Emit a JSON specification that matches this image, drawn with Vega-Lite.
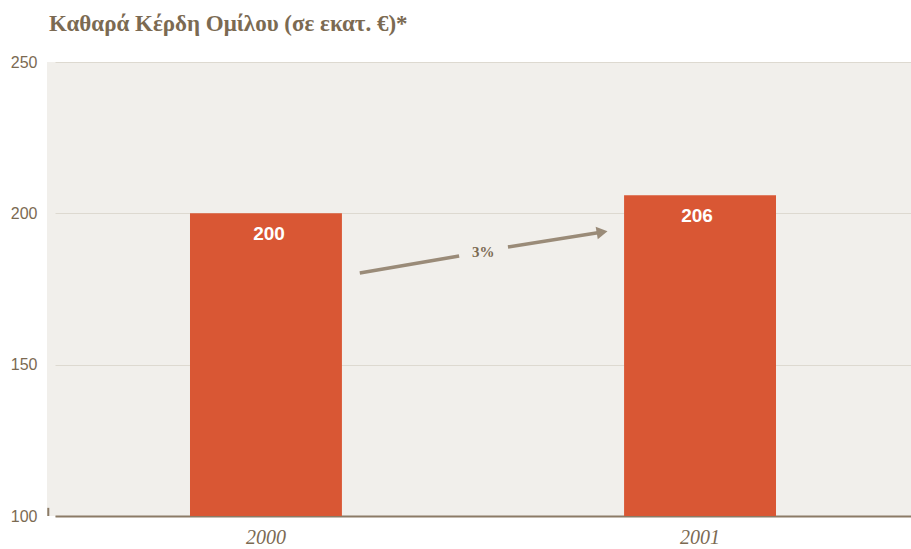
{
  "$schema": "https://vega.github.io/schema/vega-lite/v6.json",
  "width": 864,
  "height": 454,
  "autosize": {"type": "none"},
  "padding": {"left": 47, "top": 62, "right": 0, "bottom": 33},
  "background": "#ffffff",
  "title": {
    "text": "Καθαρά Κέρδη Ομίλου (σε εκατ. €)*",
    "anchor": "start",
    "frame": "group",
    "font": "Liberation Serif",
    "fontSize": 23,
    "fontWeight": "bold",
    "color": "#7B6A52",
    "offset": 18,
    "dx": 2
  },
  "config": {
    "view": {"fill": "#F1EFEB", "stroke": null}
  },
  "datasets": {
    "bars": [
      {"year": "2000", "profit": 200},
      {"year": "2001", "profit": 206}
    ],
    "arrow": [
      {"seg": "a", "t": 2000.224, "v": 180.3},
      {"seg": "a", "t": 2000.454, "v": 185.9},
      {"seg": "b", "t": 2000.567, "v": 188.9},
      {"seg": "b", "t": 2000.775, "v": 193.6}
    ],
    "head": [{"t": 2000.785, "v": 193.8}],
    "growth": [{"t": 2000.51, "v": 187.2, "label": "3%"}],
    "corner": [{"t": 1999.503, "v": 100}, {"t": 1999.503, "v": 102.7}]
  },
  "resolve": {"scale": {"x": "independent"}},
  "layer": [
    {
      "data": {"name": "bars"},
      "mark": {"type": "bar", "color": "#D95734"},
      "encoding": {
        "x": {
          "field": "year", "type": "nominal",
          "scale": {"range": [8, 864], "paddingInner": 0.65, "paddingOuter": 0.311},
          "axis": {
            "title": null,
            "labelAngle": 0,
            "labelFont": "Liberation Serif",
            "labelFontStyle": "italic",
            "labelFontSize": 20,
            "labelColor": "#7B6A52",
            "labelPadding": 11,
            "ticks": false,
            "domainColor": "#8B7B66",
            "domainWidth": 2
          }
        },
        "y": {
          "field": "profit", "type": "quantitative",
          "scale": {"domain": [100, 250], "zero": false, "clamp": true},
          "axis": {
            "title": null,
            "values": [100, 150, 200, 250],
            "labelFont": "Liberation Sans",
            "labelFontSize": 16,
            "labelColor": "#7B6A52",
            "labelPadding": 10,
            "ticks": false,
            "domain": false,
            "gridColor": "#DDD9D0",
            "gridWidth": 1
          }
        }
      }
    },
    {
      "data": {"name": "bars"},
      "mark": {"type": "text", "color": "#ffffff", "font": "Liberation Sans", "fontWeight": "bold", "fontSize": 19, "baseline": "top", "dy": 12},
      "encoding": {
        "x": {"field": "year", "type": "nominal", "scale": {"range": [8, 864], "paddingInner": 0.65, "paddingOuter": 0.311}, "axis": null},
        "y": {"field": "profit", "type": "quantitative", "scale": {"domain": [100, 250], "zero": false}},
        "text": {"field": "profit", "type": "quantitative"}
      }
    },
    {
      "data": {"name": "arrow"},
      "mark": {"type": "line", "color": "#9A8B78", "strokeWidth": 3.5},
      "encoding": {
        "x": {"field": "t", "type": "quantitative", "scale": {"domain": [1999.5, 2001.5]}, "axis": null},
        "y": {"field": "v", "type": "quantitative", "scale": {"domain": [100, 250], "zero": false}},
        "detail": {"field": "seg"}
      }
    },
    {
      "data": {"name": "head"},
      "mark": {"type": "point", "shape": "triangle-right", "filled": true, "color": "#9A8B78", "opacity": 1, "size": 160, "angle": -9.7},
      "encoding": {
        "x": {"field": "t", "type": "quantitative", "scale": {"domain": [1999.5, 2001.5]}, "axis": null},
        "y": {"field": "v", "type": "quantitative", "scale": {"domain": [100, 250], "zero": false}}
      }
    },
    {
      "data": {"name": "growth"},
      "mark": {"type": "text", "color": "#7B6A52", "font": "Liberation Serif", "fontWeight": "bold", "fontSize": 15},
      "encoding": {
        "x": {"field": "t", "type": "quantitative", "scale": {"domain": [1999.5, 2001.5]}, "axis": null},
        "y": {"field": "v", "type": "quantitative", "scale": {"domain": [100, 250], "zero": false}},
        "text": {"field": "label"}
      }
    },
    {
      "data": {"name": "corner"},
      "mark": {"type": "line", "color": "#8B7B66", "strokeWidth": 2},
      "encoding": {
        "x": {"field": "t", "type": "quantitative", "scale": {"domain": [1999.5, 2001.5]}, "axis": null},
        "y": {"field": "v", "type": "quantitative", "scale": {"domain": [100, 250], "zero": false}}
      }
    }
  ]
}
